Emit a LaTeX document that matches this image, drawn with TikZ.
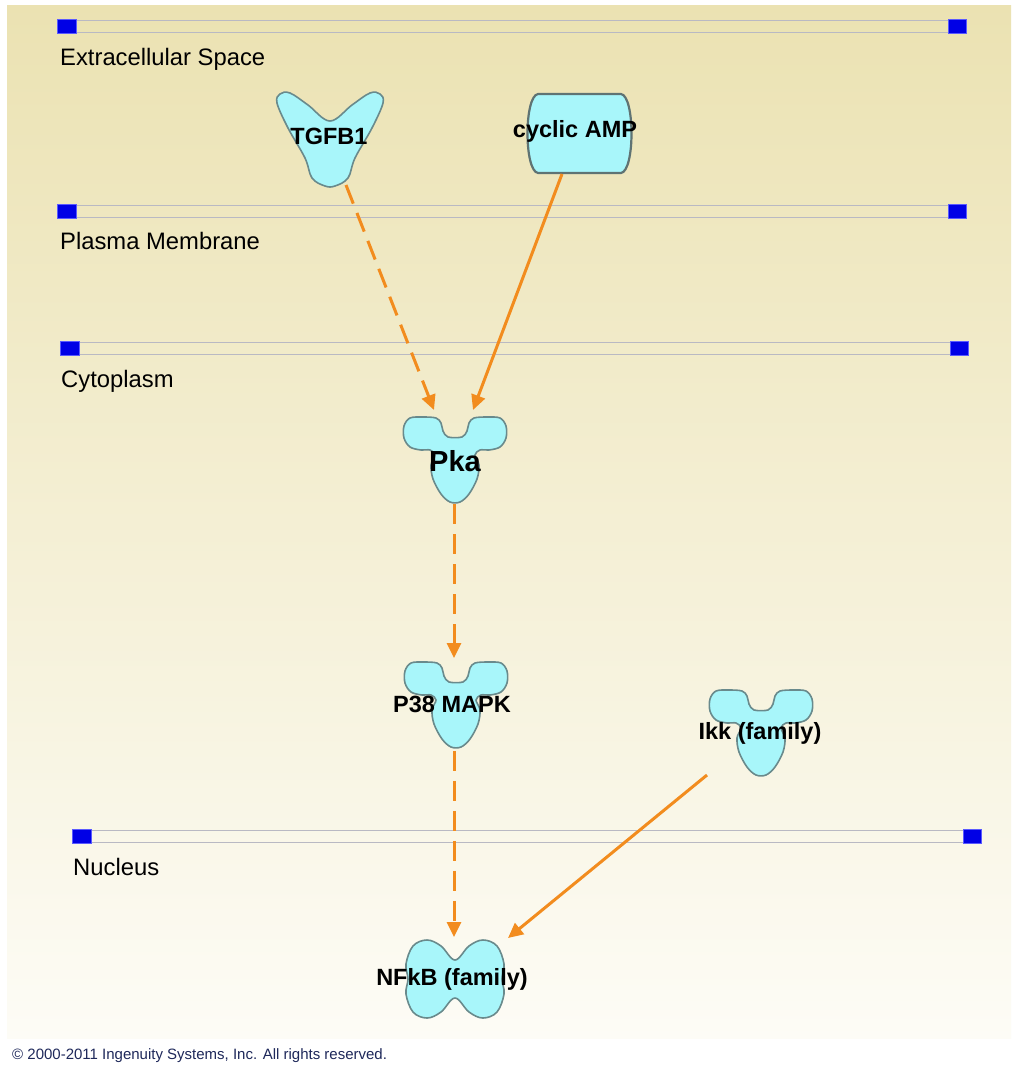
\documentclass[tikz,border=0pt]{standalone}
\usepackage{fontspec}
\setmainfont{Liberation Sans}
\usetikzlibrary{arrows.meta}
\definecolor{bgtop}{RGB}{235,226,178}
\definecolor{bgbot}{RGB}{253,252,246}
\definecolor{molfill}{RGB}{168,246,250}
\definecolor{molline}{RGB}{105,138,140}
\definecolor{camline}{RGB}{95,115,115}
\definecolor{edgeor}{RGB}{242,140,30}
\definecolor{memline}{RGB}{185,185,195}
\definecolor{memsq}{RGB}{0,0,230}
\definecolor{memsqb}{RGB}{90,90,255}
\definecolor{copyc}{RGB}{30,40,90}
\tikzset{
  mol/.style={fill=molfill, draw=molline, line width=1.6pt},
  lbl/.style={font=\fontsize{23.5}{26}\selectfont\bfseries, text=black, inner sep=0pt},
  memlbl/.style={font=\fontsize{23.8}{27}\selectfont, anchor=base west, inner sep=0pt, text=black},
  memsquare/.style={fill=memsq, draw=memsqb, line width=0.6pt},
  rel/.style={draw=edgeor, line width=3pt, -{Triangle[length=15pt,width=14pt]}},
  relind/.style={rel, dash pattern=on 20pt off 10pt},
  kinase/.pic={
    \draw[mol] plot[smooth cycle, tension=0.55] coordinates {
      (-19,1) (-32,0) (-45,1) (-51,9) (-51,21) (-45,30) (-34,33) (-25,33)
      (-20,38) (-24,48) (-22,62) (-14,77) (-5,85) (5,85) (14,77) (22,62)
      (24,48) (20,38) (25,33) (34,33) (45,30) (51,21) (51,9) (45,1) (32,0)
      (19,1) (14,6) (12,14) (7,20) (-7,20) (-12,14) (-14,6)};
  },
}
\begin{document}
\begin{tikzpicture}[x=1pt,y=-1pt]
\useasboundingbox (0,0) rectangle (1018,1066);
\fill[white] (0,0) rectangle (1018,1066);
\shade[top color=bgtop, bottom color=bgbot] (7,5) rectangle (1011,1038);

% membranes
\foreach \y/\xl/\xr in {19/57/948, 204/57/948, 341/60/950, 829/72/963}{
  \draw[memline, line width=1pt] ({\xl+19},{\y+1}) -- (\xr,{\y+1});
  \draw[memline, line width=1pt] ({\xl+19},{\y+13}) -- (\xr,{\y+13});
  \draw[memsquare] (\xl,\y) rectangle ({\xl+19},{\y+14});
  \draw[memsquare] (\xr,\y) rectangle ({\xr+18},{\y+14});
}
\node[memlbl] (lextra) at (60,65) {Extracellular Space};
\node[memlbl] (lplasma) at (60,249) {Plasma Membrane};
\node[memlbl] (lcyto) at (61,387) {Cytoplasm};
\node[memlbl] (lnuc) at (73,875) {Nucleus};

% TGFB1
\draw[mol] plot[smooth cycle, tension=0.6] coordinates {
  (280,94) (290,93) (308,105) (330,121) (352,105) (370,93) (380,94)
  (383,103) (372,128) (355,158) (348,178) (335,186) (325,186) (312,178) (305,158) (288,128) (277,103)};
% cyclic AMP
\draw[fill=molfill, draw=camline, line width=2.2pt]
  (538,94) -- (621,94) .. controls (635,96) and (635,171) .. (621,173)
  -- (538,173) .. controls (524,171) and (524,96) .. (538,94) -- cycle;
% kinases
\pic at (455,417) {kinase};
\pic at (456,662) {kinase};
\pic at (761,690) {kinase};
% NFkB
\draw[mol] plot[smooth cycle, tension=0.6] coordinates {
  (455,960) (469,946) (483,940) (497,946) (504,964) (502,979) (504,994) (497,1012)
  (483,1018) (469,1012) (455,998) (441,1012) (427,1018) (413,1012) (406,994)
  (408,979) (406,964) (413,946) (427,940) (441,946)};

% labels
\node[lbl] (tgfb) at (329,136) {TGFB1};
\node[lbl] (camp) at (575,131) {cyclic AMP};
\node[lbl, font=\fontsize{29}{32}\selectfont\bfseries] (pka) at (455,461) {Pka};
\node[lbl] (p38) at (452,704) {P38 MAPK};
\node[lbl] (ikk) at (760,733) {Ikk (family)};
\node[lbl] (nfkb) at (452,979) {NFkB (family)};

% connector end points
\coordinate (tgfbout) at (346,185);
\coordinate (campout) at (562,174);
\coordinate (pkainl) at (434,410);
\coordinate (pkainr) at (473,410);
\coordinate (pkaout) at (454,504);
\coordinate (p38in) at (454,658);
\coordinate (p38out) at (454,751);
\coordinate (nfkbin) at (454,937);
\coordinate (ikkout) at (707,775);
\coordinate (nfkbinr) at (508,938);

\draw[relind] (tgfbout) -- (pkainl);
\draw[rel] (campout) -- (pkainr);
\draw[relind] (pkaout) -- (p38in);
\draw[relind] (p38out) -- (nfkbin);
\draw[rel] (ikkout) -- (nfkbinr);

\node[anchor=west, inner sep=0pt, font=\fontsize{15}{18}\selectfont, text=copyc] (copy) at (12,1056)
  {© 2000-2011 Ingenuity Systems, Inc. All rights reserved.};
\end{tikzpicture}
\end{document}
